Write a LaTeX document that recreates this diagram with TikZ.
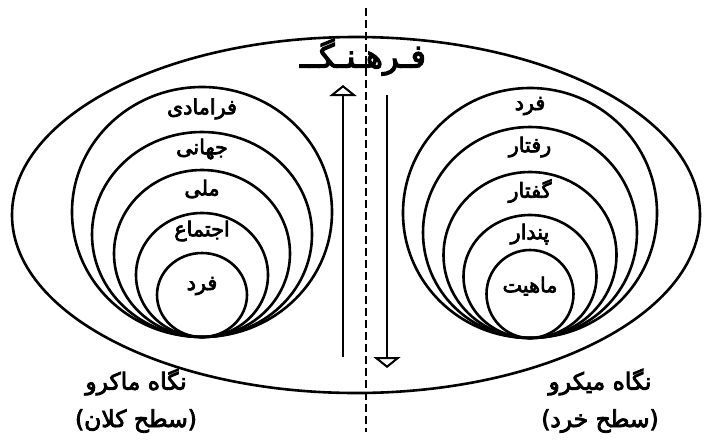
\documentclass[tikz,border=0pt]{standalone}
\usepackage{fontspec}
\usetikzlibrary{arrows.meta,positioning}
\TeXXeTstate=1
\newfontfamily\farsifont[Script=Arabic, Scale=1.3, FakeBold=3.5]{DejaVu Sans}
\newfontfamily\ringfont[Script=Arabic, Scale=1.15, FakeBold=3.5]{DejaVu Sans}

\begin{document}
\begin{tikzpicture}[x=1pt, y=-1pt,
      ring/.style={line width=2.6pt},
      ringtext/.style={font=\fontsize{18}{21}\ringfont, inner sep=0pt},
      captext/.style={font=\fontsize{18}{21}\farsifont, inner sep=0pt},
      flow/.style={line width=1.8pt, -{Triangle[open, length=11pt, width=27pt, line width=2pt]}}
    ]
      \useasboundingbox (0,0) rectangle (711,439);

      % outer culture ellipse
      \draw[ring] (356,215) ellipse [x radius=344, y radius=178];
      \node[captext, font=\fontsize{25}{28}\farsifont] (culture) at (363,57)
        {\beginR فـرهـنـگــ\endR};

      % divider
      \coordinate (divtop) at (366,8);
      \coordinate (divbot) at (366,432);
      \draw[line width=1.3pt, dash pattern=on 8pt off 4pt] (divtop) -- (divbot);

      % macro rings (left)
      \foreach \rx/\ry in {130/125, 110/102.5, 88/83.5, 66/62, 45/42}
        \draw[ring] (202,{337-\ry}) ellipse [x radius=\rx, y radius=\ry];
      \node[ringtext] (mfaramadi) at (202,109) {\beginR فرامادی\endR};
      \node[ringtext] (mjahani) at (202,149) {\beginR جهانی\endR};
      \node[ringtext] (mmelli) at (202,189) {\beginR ملی\endR};
      \node[ringtext] (mejtema) at (202,231) {\beginR اجتماع\endR};
      \node[ringtext] (mfard) at (202,286) {\beginR فرد\endR};

      % micro rings (right)
      \foreach \rx/\ry in {127/125, 107/105.5, 86.5/83, 66.5/61.5, 43.5/44}
        \draw[ring] (530,{338-\ry}) ellipse [x radius=\rx, y radius=\ry];
      \node[ringtext] (nfard) at (530,106) {\beginR فرد\endR};
      \node[ringtext] (nraftar) at (530,147) {\beginR رفتار\endR};
      \node[ringtext] (ngoftar) at (530,191) {\beginR گفتار\endR};
      \node[ringtext] (npendar) at (530,234) {\beginR پندار\endR};
      \node[ringtext] (nmahiyat) at (530,286) {\beginR ماهیت\endR};

      % up and down arrows
      \coordinate (upfrom) at (343,357);
      \coordinate (upto) at (343,85);
      \coordinate (downfrom) at (387,95);
      \coordinate (downto) at (387,368);
      \draw[flow] (upfrom) -- (upto);
      \draw[flow] (downfrom) -- (downto);

      % captions
      \node[captext] (macro) at (136,382) {\beginR نگاه ماکرو\endR};
      \node[captext] (macrolevel) at (136,421) {\beginR (سطح کلان)\endR};
      \node[captext] (micro) at (600,382) {\beginR نگاه میکرو\endR};
      \node[captext] (microlevel) at (600,421) {\beginR (سطح خرد)\endR};
    \end{tikzpicture}
\end{document}
